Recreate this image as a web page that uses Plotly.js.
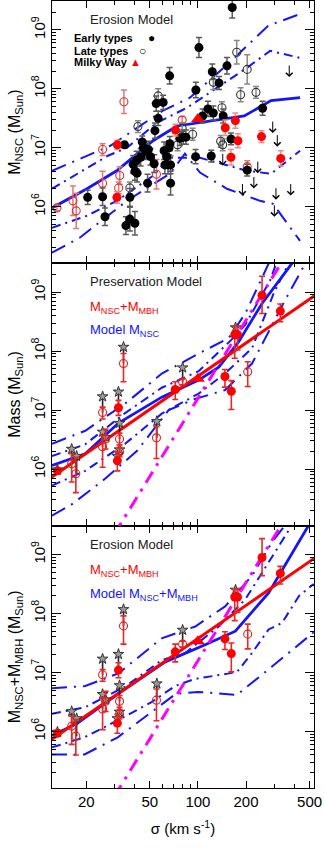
<!DOCTYPE html>
<html><head><meta charset="utf-8">
<script src="https://cdn.plot.ly/plotly-3.0.1.min.js"></script>
<style>html,body{margin:0;padding:0;background:#fff}#chart{width:325px;height:848px}</style>
</head><body><div id="chart"></div>
<script>
// ================= DATA (sigma in km/s, masses as log10(M/Msun), errors in dex) =================
// Panel 1: observed NSC masses
const earlySigma = [164,101.5,66.5,123,152,97.1,135.5,54.8,60.6,56.4,53.8,115.5,124.8,107,144,254,34.7,44.8,45.5,47,49,50.5,43.8,41.3,39.3,40.3,41.6,48.4,53.2,61.4,63.7,65,67.4,67.4,77.1,80.9,84.1,96.7,121.2,161,203.5,20.4,25.3,26.2,37.5,35.4,37.5,40.3,66.7,66,62.1];
const earlyLogM  = [9.38,8.70,8.22,8.29,8.39,7.98,8.10,7.75,7.77,7.50,7.29,7.66,7.59,7.54,7.54,7.67,7.05,7.10,7.00,6.94,6.97,6.85,6.84,6.79,6.72,6.60,6.57,6.40,6.73,6.95,6.85,6.71,6.71,6.40,7.16,7.18,7.18,6.85,6.86,7.15,6.62,6.16,6.17,5.83,6.16,5.68,5.79,5.72,7.07,7.00,6.71];
const earlyErr   = [0.18,0.17,0.14,0.13,0.14,0.13,0.11,0.13,0.12,0.12,0.13,0.13,0.12,0.12,0.12,0.12,0.05,0.10,0.12,0.14,0.14,0.14,0.15,0.15,0.15,0.15,0.15,0.15,0.15,0.15,0.15,0.15,0.15,0.20,0.12,0.12,0.12,0.12,0.10,0.10,0.10,0.12,0.15,0.15,0.15,0.15,0.20,0.20,0.12,0.12,0.15];

const lateSigma = [175,203.5,124.8,185,231,141.4,56.4,42.1,79.7,92.6,74.6,138.8,142.9,37.5];
const lateLogM  = [8.62,8.33,8.11,7.90,7.94,7.68,7.88,7.36,7.33,7.23,7.05,7.11,7.05,6.32];
const lateErr   = [0.20,0.25,0.12,0.12,0.10,0.10,0.12,0.10,0.10,0.10,0.10,0.10,0.10,0.10];

const nscOpenSigma = [34.4,25.3,32.4,25.3,31.9,55,79.7,13.1,16.5,17.3,203.5];
const nscOpenLogM  = [7.78,6.97,6.53,6.40,6.32,6.55,7.47,5.98,6.10,5.93,6.68];
const nscOpenErr   = [0.20,0.10,0.15,0.20,0.10,0.25,0.06,0.05,0.25,0.30,0.10];

const nscFillSigma = [31.3,31.1,72.4,148.3,171.6,178,161,250,330];
const nscFillLogM  = [7.05,6.16,7.30,7.34,7.46,7.12,6.84,7.19,6.82];
const nscFillErr   = [0.08,0.10,0.10,0.13,0.13,0.12,0.13,0.10,0.13];

const mwSigma = [100];
const mwLogNSC = [7.49];
const mwLogTot = [7.53];

const limSigma = [373,294,314,143,237,224,190,308,381,301];
const limLogM  = [8.42,7.47,7.24,6.92,6.79,6.53,6.41,6.34,6.41,6.05];

// Panels 2 & 3: M_NSC + M_MBH
const totFillSigma = [252,328,170,177,147.6,161.8,72.1,31.8,31.3,13.2];
const totFillLogM  = [8.95,8.68,8.28,8.28,7.57,7.32,7.35,7.04,6.14,5.97];
const totFillErrUp = [0.32,0.12,0.14,0.14,0.12,0.18,0.13,0.125,0.15,0.05];
const totFillErrDn = [0.31,0.18,0.40,0.26,0.18,0.31,0.17,0.13,0.17,0.05];

const totOpenSigma = [34.2,80.2,205,25.3,25.3,26.4,32.3,32.3,55,16.2,17.2];
const totOpenLogM  = [7.79,7.48,7.65,6.96,6.38,6.51,6.51,6.29,6.53,6.09,5.92];
const totOpenErrUp = [0.17,0.05,0.17,0.09,0.19,0.17,0.10,0.08,0.19,0.17,0.28];
const totOpenErrDn = [0.31,0.05,0.25,0.11,0.35,0.17,0.10,0.08,0.35,0.31,0.32];

const starSigma    = [34.2,80.2,55.3,25.3,31.8,25.3,16.2,17.4,32.3,32.3,31.3,26.4,13.2,172];
const starLogM     = [8.07,7.72,6.81,7.23,7.31,6.63,6.34,6.22,6.78,6.33,6.22,6.54,5.99,8.40];
const starLinkLogM = [7.79,7.48,6.53,6.96,7.04,6.38,6.09,5.92,6.51,6.29,6.14,6.51,5.97,8.28];

// Fit line (red) and MBH-sigma relation (magenta)
const fitSigma = [10, 600];
const fitLogM  = [5.707, 9.03];
const mbhSigma = [30, 400];
const mbhLogM  = [4.90, 9.85];

// Model curves, panel 1 (Erosion, M_NSC)
const p1MedSigma = [12.2,20.2,31.0,52.3,73.9,100,195,287,436];
const p1MedLogM  = [5.98,6.305,6.61,7.12,7.37,7.42,7.54,7.80,7.85];
const p1Up2Sigma = [12.2,28.1,60.4,89.1,154,275,436];
const p1Up2LogM  = [6.61,7.03,7.63,7.85,8.42,9.07,9.27];
const p1Up1Sigma = [12.2,27.3,35.9,55.3,85.3,137.4,202.6,283,436];
const p1Up1LogM  = [6.305,6.865,7.0,7.424,7.678,8.05,8.356,8.644,8.525];
const p1Lo1Sigma = [12.2,20.2,31.0,52.3,66.7,103,203,287,436];
const p1Lo1LogM  = [5.644,5.847,6.10,6.525,6.83,6.83,6.61,6.56,6.95];
const p1Lo2Sigma = [12.2,18.2,35.9,66.7,82.9,103,152,245,295,436];
const p1Lo2LogM  = [5.22,5.475,6.10,6.56,6.90,6.58,6.305,6.10,6.05,5.42];

// Model curves, panel 2 (Preservation, M_NSC)
const p2MedSigma = [12.2,19.7,31.8,59.4,101,135,180,252,388];
const p2MedLogM  = [6.06,6.26,6.78,7.22,7.51,7.73,8.16,8.81,9.49];
const p2Up2Sigma = [12.2,19.7,35.0,59.4,101,155.7,198,264,290];
const p2Up2LogM  = [6.43,6.65,7.11,7.62,7.96,8.22,8.64,9.38,9.6];
const p2Up1Sigma = [12.2,19.7,35.0,59.4,101,163,198,283,320];
const p2Up1LogM  = [6.22,6.42,6.95,7.38,7.66,8.20,8.45,9.2,9.6];
const p2Lo1Sigma = [12.2,19.7,35.0,59.4,101,147.6,218,300,388];
const p2Lo1LogM  = [5.72,5.97,6.43,6.94,7.28,7.62,8.05,9.0,9.6];
const p2Lo2Sigma = [12.2,16.2,25.3,41.6,65.5,95.8,148,218,352,471];
const p2Lo2LogM  = [5.21,5.40,5.80,6.31,7.0,7.19,7.34,7.79,8.87,9.49];

// Model curves, panel 3 (Erosion, M_NSC + M_MBH)
const p3MedSigma = [12.2,17.4,31.8,62.4,111,171.5,277,449,520];
const p3MedLogM  = [5.93,6.13,6.64,7.18,7.47,7.70,8.35,9.33,9.6];
const p3Up2Sigma = [12.2,19.7,31.8,59.4,96.2,148,218,291,352];
const p3Up2LogM  = [6.73,6.77,6.985,7.58,7.78,8.12,8.64,9.21,9.50];
const p3Up1Sigma = [12.2,19.7,35.0,59.4,83.3,134.9,198,320,388];
const p3Up1LogM  = [6.30,6.41,6.76,7.21,7.33,7.78,8.24,9.15,9.50];
const p3Lo1Sigma = [12.2,19.5,31.5,51.5,71.8,95.8,154,175.7,218,277,336,430,530];
const p3Lo1LogM  = [5.73,5.90,6.19,6.50,6.77,6.89,6.98,7.01,7.33,7.73,7.84,8.30,8.50];
const p3Lo2Sigma = [12.2,19.5,31.5,50,73,100,175.7,291,530];
const p3Lo2LogM  = [5.61,5.61,5.90,6.30,6.64,6.67,6.62,7.10,7.68];

// ================= BUILD =================
const P = a => a.map(v => Math.pow(10, v));
const up = (l, e) => l.map((v, i) => Math.pow(10, v + e[i]) - Math.pow(10, v));
const dn = (l, e) => l.map((v, i) => Math.pow(10, v) - Math.pow(10, v - e[i]));

const BLUE = '#1414ff', RED = '#ff0000', MAG = '#ff00ff';
const DASH_IN = '9px,5px,2px,5px';
const DASH_OUT = '15px,7px,2px,7px';

const traces = [];
function line(xa, ya, s, l, color, width, dash) {
  traces.push({x: s, y: P(l), xaxis: xa, yaxis: ya, type: 'scatter', mode: 'lines',
    line: {color: color, width: width, dash: dash}, hoverinfo: 'skip', showlegend: false});
}
function pts(xa, ya, s, l, eu, ed, marker, ecol, ethick, ewidth) {
  traces.push({x: s, y: P(l), xaxis: xa, yaxis: ya, type: 'scatter', mode: 'markers',
    marker: marker, showlegend: false, hoverinfo: 'skip',
    error_y: {type: 'data', symmetric: false, array: up(l, eu), arrayminus: dn(l, ed),
      color: ecol, thickness: ethick, width: ewidth}});
}

// ---- Panel 1 (top: x3/y3)
line('x3','y3', p1Up2Sigma, p1Up2LogM, BLUE, 2, DASH_OUT);
line('x3','y3', p1Up1Sigma, p1Up1LogM, BLUE, 2, DASH_IN);
line('x3','y3', p1Lo1Sigma, p1Lo1LogM, BLUE, 2, DASH_IN);
line('x3','y3', p1Lo2Sigma, p1Lo2LogM, BLUE, 2, DASH_OUT);
line('x3','y3', p1MedSigma, p1MedLogM, BLUE, 2.8, 'solid');
pts('x3','y3', nscOpenSigma, nscOpenLogM, nscOpenErr, nscOpenErr,
  {symbol: 'circle-open', size: 8, color: '#e03030', line: {width: 1.1}}, '#e07878', 1.5, 3);
pts('x3','y3', lateSigma, lateLogM, lateErr, lateErr,
  {symbol: 'circle-open', size: 8, color: '#333', line: {width: 1.1}}, '#888', 1.5, 3);
pts('x3','y3', earlySigma, earlyLogM, earlyErr, earlyErr,
  {symbol: 'circle', size: 9, color: '#000'}, '#5a5a5a', 1.5, 3);
pts('x3','y3', nscFillSigma, nscFillLogM, nscFillErr, nscFillErr,
  {symbol: 'circle', size: 9, color: RED}, '#f08a8a', 1.5, 3);
traces.push({x: mwSigma, y: P(mwLogNSC), xaxis: 'x3', yaxis: 'y3', type: 'scatter', mode: 'markers',
  marker: {symbol: 'triangle-up', size: 12, color: RED}, showlegend: false, hoverinfo: 'skip'});

// ---- Panels 2 and 3
[['x2','y2', [p2Up2Sigma,p2Up2LogM], [p2Up1Sigma,p2Up1LogM], [p2Lo1Sigma,p2Lo1LogM], [p2Lo2Sigma,p2Lo2LogM], [p2MedSigma,p2MedLogM]],
 ['x','y',   [p3Up2Sigma,p3Up2LogM], [p3Up1Sigma,p3Up1LogM], [p3Lo1Sigma,p3Lo1LogM], [p3Lo2Sigma,p3Lo2LogM], [p3MedSigma,p3MedLogM]]
].forEach(([xa, ya, u2, u1, l1, l2, med]) => {
  line(xa, ya, u2[0], u2[1], BLUE, 2, DASH_OUT);
  line(xa, ya, u1[0], u1[1], BLUE, 2, DASH_IN);
  line(xa, ya, l1[0], l1[1], BLUE, 2, DASH_IN);
  line(xa, ya, l2[0], l2[1], BLUE, 2, DASH_OUT);
  line(xa, ya, med[0], med[1], BLUE, 2.8, 'solid');
  line(xa, ya, mbhSigma, mbhLogM, MAG, 3, '13px,7px,3px,7px');
  line(xa, ya, fitSigma, fitLogM, RED, 3, 'solid');
  // stars with link to measured point
  traces.push({x: starSigma, y: P(starLogM), xaxis: xa, yaxis: ya, type: 'scatter', mode: 'markers',
    marker: {symbol: 'star', size: 8, color: '#9a9a9a', line: {color: '#333', width: 1}},
    showlegend: false, hoverinfo: 'skip',
    error_y: {type: 'data', symmetric: false, array: starLogM.map(() => 0),
      arrayminus: starLogM.map((v, i) => Math.pow(10, v) - Math.pow(10, starLinkLogM[i])),
      color: '#222', thickness: 1.6, width: 0}});
  pts(xa, ya, totOpenSigma, totOpenLogM, totOpenErrUp, totOpenErrDn,
    {symbol: 'circle-open', size: 8, color: '#e02020', line: {width: 1.1}}, '#e82828', 1.6, 3);
  pts(xa, ya, totFillSigma, totFillLogM, totFillErrUp, totFillErrDn,
    {symbol: 'circle', size: 9, color: RED}, '#e82828', 1.6, 3);
  traces.push({x: mwSigma, y: P(mwLogTot), xaxis: xa, yaxis: ya, type: 'scatter', mode: 'markers',
    marker: {symbol: 'triangle-up', size: 12, color: RED}, showlegend: false, hoverinfo: 'skip'});
});

// ================= AXES =================
const FONT = 'Liberation Sans, Arial, Helvetica, sans-serif';
const xMajor = [20, 50, 100, 200, 500];
const xMinor = [30, 40, 60, 70, 80, 90, 300, 400];
const yMajor = [1e6, 1e7, 1e8, 1e9];
const yMajorText = ['10<sup>6</sup>', '10<sup>7</sup>', '10<sup>8</sup>', '10<sup>9</sup>'];
const yMinor = [];
for (let d = 5; d <= 9; d++) for (let m = 2; m <= 9; m++) yMinor.push(m * Math.pow(10, d));

function xAxis(anchor, labels) {
  return {type: 'log', range: [Math.log10(12.2), Math.log10(533)], anchor: anchor, domain: [0, 1],
    showgrid: false, zeroline: false, showline: true, linecolor: '#000', linewidth: 1, mirror: 'ticks',
    ticks: 'inside', ticklen: 7, tickwidth: 1, tickcolor: '#000',
    tickmode: 'array', tickvals: xMajor, ticktext: xMajor.map(String), showticklabels: labels,
    tickfont: {family: FONT, size: 15, color: '#000'},
    minor: {ticks: 'inside', ticklen: 4, tickwidth: 1, tickcolor: '#000', tickmode: 'array', tickvals: xMinor},
    title: labels ? {text: 'σ (km s<sup>-1</sup>)', font: {family: FONT, size: 15, color: '#000'}, standoff: 14} : {text: ''}};
}
function yAxis(anchor, dom, title) {
  return {type: 'log', range: [5.04, 9.49], anchor: anchor, domain: dom,
    showgrid: false, zeroline: false, showline: true, linecolor: '#000', linewidth: 1, mirror: 'ticks',
    ticks: 'inside', ticklen: 9, tickwidth: 1, tickcolor: '#000',
    tickmode: 'array', tickvals: yMajor, ticktext: yMajorText, tickangle: -90,
    tickfont: {family: FONT, size: 15, color: '#000'},
    minor: {ticks: 'inside', ticklen: 4, tickwidth: 1, tickcolor: '#000', tickmode: 'array', tickvals: yMinor},
    title: {text: title, font: {family: FONT, size: 16, color: '#000'}, standoff: 4}};
}

// ================= ANNOTATIONS =================
const ann = [];
function txt(x, y, text, size, color, opts) {
  ann.push(Object.assign({xref: 'paper', yref: 'paper', x: x, y: y, text: text, showarrow: false,
    xanchor: 'left', yanchor: 'middle', font: {family: FONT, size: size, color: color}}, opts || {}));
}
txt(0.137, 0.976, 'Erosion Model', 13, '#222');
txt(0.076, 0.953, '<b>Early types</b>', 11, '#000');
txt(0.076, 0.937, '<b>Late types</b>', 11, '#000');
txt(0.076, 0.9225, '<b>Milky Way</b>', 11, '#000');
txt(0.378, 0.953, '●', 12, '#000', {xanchor: 'center'});
txt(0.347, 0.937, '○', 12, '#000', {xanchor: 'center'});
txt(0.317, 0.9225, '▲', 11, RED, {xanchor: 'center'});

txt(0.137, 0.643, 'Preservation Model', 13, '#222');
txt(0.137, 0.611, 'M<sub>NSC</sub>+M<sub>MBH</sub>', 13, RED);
txt(0.137, 0.581, 'Model M<sub>NSC</sub>', 13, BLUE);

txt(0.137, 0.3088, 'Erosion Model', 13, '#222');
txt(0.137, 0.277, 'M<sub>NSC</sub>+M<sub>MBH</sub>', 13, RED);
txt(0.137, 0.2465, 'Model M<sub>NSC</sub>+M<sub>MBH</sub>', 13, BLUE);

// upper-limit arrows (panel 1)
limSigma.forEach((s, i) => {
  ann.push({xref: 'x3', yref: 'y3', x: Math.log10(s), y: limLogM[i], text: '', showarrow: true,
    ax: 0, ay: -13, yshift: -13, arrowhead: 4, arrowsize: 1.3, arrowwidth: 1, arrowcolor: '#000'});
});

const layout = {
  width: 325, height: 848,
  margin: {l: 52, r: 11, t: 1, b: 60},
  paper_bgcolor: '#fff', plot_bgcolor: '#fff',
  font: {family: FONT, color: '#000'},
  showlegend: false,
  xaxis: xAxis('y', true),
  xaxis2: xAxis('y2', false),
  xaxis3: xAxis('y3', false),
  yaxis: yAxis('x', [0, 1/3], 'M<sub>NSC</sub>+M<sub>MBH</sub> (M<sub>Sun</sub>)'),
  yaxis2: yAxis('x2', [1/3, 2/3], 'Mass (M<sub>Sun</sub>)'),
  yaxis3: yAxis('x3', [2/3, 1], 'M<sub>NSC</sub> (M<sub>Sun</sub>)'),
  annotations: ann
};

Plotly.newPlot('chart', traces, layout, {staticPlot: true, displayModeBar: false});
</script>
</body></html>
